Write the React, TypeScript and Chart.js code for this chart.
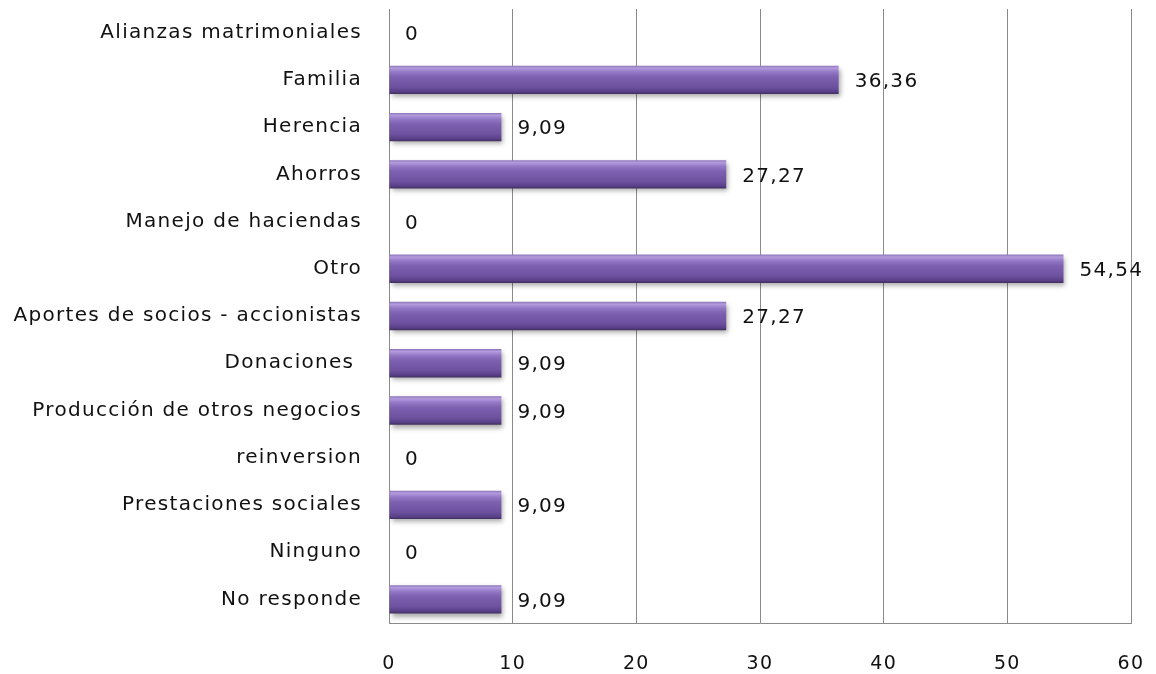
import React, { useEffect, useRef } from "react";
import { Chart, registerables } from "chart.js";

Chart.register(...registerables);

const categories = [
  "Alianzas matrimoniales",
  "Familia",
  "Herencia",
  "Ahorros",
  "Manejo de haciendas",
  "Otro",
  "Aportes de socios - accionistas",
  "Donaciones ",
  "Producción de otros negocios",
  "reinversion",
  "Prestaciones sociales",
  "Ninguno",
  "No responde",
];
const values = [0, 36.36, 9.09, 27.27, 0, 54.54, 27.27, 9.09, 9.09, 0, 9.09, 0, 9.09];
const valueLabels = ["0", "36,36", "9,09", "27,27", "0", "54,54", "27,27", "9,09", "9,09", "0", "9,09", "0", "9,09"];
const xTicks = [0, 10, 20, 30, 40, 50, 60];

const FONT = "'DejaVu Sans', Verdana, sans-serif";
const SPACING = "1.3px";

const spacingPlugin = {
  id: "letterSpacing",
  beforeInit(chart: any) {
    chart.ctx.letterSpacing = SPACING;
  },
  beforeUpdate(chart: any) {
    chart.ctx.letterSpacing = SPACING;
  },
  beforeDraw(chart: any) {
    chart.ctx.letterSpacing = SPACING;
  },
};

const valueLabelPlugin = {
  id: "valueLabels",
  afterDatasetsDraw(chart: any) {
    const ctx = chart.ctx;
    const meta = chart.getDatasetMeta(0);
    ctx.save();
    ctx.letterSpacing = SPACING;
    ctx.font = `20px ${FONT}`;
    ctx.fillStyle = "#111";
    ctx.textAlign = "left";
    ctx.textBaseline = "middle";
    meta.data.forEach((bar: any, i: number) => {
      ctx.fillText(valueLabels[i], bar.x + 16, bar.y + 2);
    });
    ctx.restore();
  },
};

const shadowPlugin = {
  id: "barShadow",
  beforeDatasetDraw(chart: any) {
    const ctx = chart.ctx;
    ctx.save();
    ctx.shadowColor = "rgba(0,0,0,0.35)";
    ctx.shadowBlur = 5;
    ctx.shadowOffsetX = 2;
    ctx.shadowOffsetY = 3;
  },
  afterDatasetDraw(chart: any) {
    chart.ctx.restore();
  },
};

export default function App() {
  const ref = useRef<HTMLCanvasElement>(null);
  useEffect(() => {
    document.body.style.margin = "0";
    const canvas = ref.current!;
    const chart = new Chart(canvas, {
      type: "bar",
      data: {
        labels: categories,
        datasets: [
          {
            data: values,
            barPercentage: 0.6,
            categoryPercentage: 1,
            backgroundColor: (c: any) => {
              const ch = c.chart;
              const y = ch.scales?.y;
              if (!y || c.dataIndex === undefined) return "#7559a8";
              const center = y.getPixelForValue(c.dataIndex);
              if (!isFinite(center)) return "#7559a8";
              const half = 14;
              const g = ch.ctx.createLinearGradient(0, center - half, 0, center + half);
              g.addColorStop(0, "#8f77bd");
              g.addColorStop(0.08, "#b39bdd");
              g.addColorStop(0.22, "#9378c6");
              g.addColorStop(0.4, "#7d60b0");
              g.addColorStop(0.75, "#6e52a0");
              g.addColorStop(0.92, "#583f88");
              g.addColorStop(1, "#42315f");
              return g;
            },
            borderWidth: 0,
          },
        ],
      },
      options: {
        indexAxis: "y",
        animation: false,
        responsive: false,
        maintainAspectRatio: false,
        layout: { padding: { top: 9, right: 25, left: 0, bottom: 0 } },
        plugins: {
          legend: { display: false },
          tooltip: { enabled: false },
        },
        scales: {
          x: {
            min: 0,
            max: 60,
            afterBuildTicks: (s: any) => {
              s.ticks = xTicks.map((v) => ({ value: v }));
            },
            afterFit: (s: any) => {
              s.height = 51;
              s.paddingLeft = 0;
              s.paddingRight = 0;
            },
            grid: { color: "#8a8a8a", lineWidth: 1, drawTicks: false },
            border: { display: true, color: "#8a8a8a" },
            ticks: {
              padding: 30,
              color: "#111",
              font: { family: FONT, size: 19 },
            },
          },
          y: {
            afterFit: (s: any) => {
              s.width = 389;
              s.paddingTop = 0;
              s.paddingBottom = 0;
            },
            grid: { display: false, drawTicks: false },
            border: { display: true, color: "#8a8a8a" },
            ticks: {
              padding: 27,
              color: "#111",
              autoSkip: false,
              font: { family: FONT, size: 20 },
            },
          },
        },
      },
      plugins: [spacingPlugin, shadowPlugin, valueLabelPlugin],
    } as any);
    return () => chart.destroy();
  }, []);
  return (
    <div style={{ width: 1156, height: 674 }}>
      <canvas ref={ref} width={1156} height={674} style={{ width: 1156, height: 674, display: "block" }} />
    </div>
  );
}
